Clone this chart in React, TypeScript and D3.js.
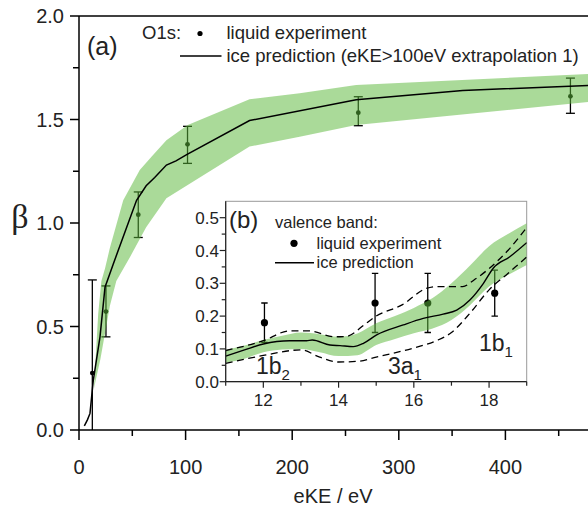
import React from 'react';
import * as d3 from 'd3';

const W = 588;
const H = 508;
const FONT = 'Liberation Sans, Arial, sans-serif';

// ---- panel (a): O1s ----
// liquid experiment: eKE, beta, error low, error high
const o1sE = [12.5, 25.3, 55.6, 101.8, 262, 461];
const o1sBeta = [0.275, 0.572, 1.04, 1.38, 1.533, 1.612];
const o1sLo = [-0.2, 0.45, 0.93, 1.288, 1.47, 1.53];
const o1sHi = [0.725, 0.696, 1.15, 1.467, 1.61, 1.70];

// ice prediction line
const iceLineA: [number, number][] = [
  [5, 0.02], [6, 0.03], [8, 0.05], [10.3, 0.08], [13.4, 0.24], [19.7, 0.45],
  [24.4, 0.69], [32, 0.8], [54, 1.11], [63, 1.18], [71, 1.22], [82, 1.28],
  [91, 1.3], [101, 1.33], [160, 1.495], [260, 1.595], [360, 1.64], [480, 1.665],
];
// uncertainty band
const bandUpperA: [number, number][] = [
  [14, 0.2], [18, 0.56], [21, 0.72], [24.4, 0.78], [29, 0.88], [41.5, 1.11],
  [57, 1.256], [68, 1.32], [82, 1.4], [102, 1.473], [160, 1.598], [207, 1.627],
  [260, 1.667], [480, 1.72],
];
const bandLowerA: [number, number][] = [
  [14, 0.2], [20, 0.34], [29, 0.6], [35, 0.72], [48, 0.837], [63, 0.98],
  [82, 1.12], [160, 1.369], [207, 1.417], [260, 1.473], [480, 1.586],
];

const xTicksA = [0, 100, 200, 300, 400];
const xMinorA = [50, 150, 250, 350, 450];
const yTicksA = [0, 0.5, 1, 1.5, 2];
const yMinorA = [0.25, 0.75, 1.25, 1.75];

// ---- panel (b): valence band ----
const vbE = [12.03, 14.97, 16.37, 18.15];
const vbBeta = [0.18, 0.24, 0.24, 0.27];
const vbLo = [0.12, 0.15, 0.15, 0.2];
const vbHi = [0.24, 0.33, 0.33, 0.34];

const iceLineB: [number, number][] = [
  [11, 0.078], [11.5, 0.097], [12, 0.115], [12.7, 0.125], [13.15, 0.125],
  [13.3, 0.127], [13.77, 0.112], [14.04, 0.11], [14.39, 0.107], [14.66, 0.117],
  [15, 0.142], [15.72, 0.173], [16.25, 0.193], [16.78, 0.206], [17.14, 0.218],
  [17.49, 0.249], [17.85, 0.3], [18.11, 0.346], [18.55, 0.381], [19, 0.424],
];
const bandEB = [11, 11.5, 12, 12.5, 13, 13.5, 14, 14.5, 15, 15.5, 16, 16.5, 17, 17.5, 18, 18.5, 19];
const bandUpB = [0.097, 0.11, 0.127, 0.14, 0.15, 0.145, 0.137, 0.147, 0.178, 0.2, 0.225, 0.255, 0.3, 0.355, 0.413, 0.45, 0.483];
const bandLoB = [0.058, 0.07, 0.09, 0.098, 0.1, 0.09, 0.078, 0.081, 0.112, 0.13, 0.148, 0.162, 0.188, 0.234, 0.29, 0.325, 0.356];

const dashUpB: [number, number][] = [
  [11, 0.095], [12, 0.125], [12.7, 0.155], [13.2, 0.155], [13.9, 0.137], [14.2, 0.138],
  [14.7, 0.175], [15, 0.2], [15.7, 0.235], [16.3, 0.283], [16.6, 0.29], [17.3, 0.29],
  [17.6, 0.31], [18, 0.345], [18.5, 0.4], [19, 0.47],
];
const dashLoB: [number, number][] = [
  [11, 0.056], [12, 0.08], [13, 0.097], [13.5, 0.075], [14, 0.06], [14.5, 0.062],
  [15, 0.075], [16, 0.103], [16.6, 0.125], [17, 0.15], [17.5, 0.21], [18, 0.28],
  [18.5, 0.33], [19, 0.38],
];

const xTicksB = [12, 14, 16, 18];
const xMinorB = [11, 13, 15, 17, 19];
const yTicksB = [0, 0.1, 0.2, 0.3, 0.4, 0.5];
const yMinorB = [0.05, 0.15, 0.25, 0.35, 0.45];

const BAND = '#5cb83c';
const BAND_OP = 0.52;

export default function App() {
  // main scales
  const x = d3.scaleLinear().domain([0, 500]).range([79, 612]);
  const y = d3.scaleLinear().domain([0, 2]).range([430, 16]);
  // inset scales
  const xi = d3.scaleLinear().domain([11, 19]).range([225.7, 526.7]);
  const yi = d3.scaleLinear().domain([0, 0.55]).range([381.7, 201.3]);

  const lineA = d3.line<[number, number]>().x(d => x(d[0])).y(d => y(d[1]));
  const bandA = lineA([...bandUpperA, ...bandLowerA.slice().reverse()]) + 'Z';

  const lineB = d3.line<[number, number]>().x(d => xi(d[0])).y(d => yi(d[1])).curve(d3.curveMonotoneX);
  const areaB = d3.area<number>()
    .x((_, i) => xi(bandEB[i]))
    .y0((_, i) => yi(bandLoB[i]))
    .y1((_, i) => yi(bandUpB[i]))
    .curve(d3.curveMonotoneX);

  const [ix0, ix1] = xi.range();
  const [iy0, iy1] = yi.range();

  return (
    <svg width={W} height={H} style={{ position: 'absolute', left: 0, top: 0, background: '#fff' }}
      fontFamily={FONT}>
      <defs>
        <clipPath id="clipA"><rect x={79} y={16} width={W - 79} height={414} /></clipPath>
        <clipPath id="clipB"><rect x={ix0} y={iy1} width={ix1 - ix0} height={iy0 - iy1} /></clipPath>
      </defs>

      {/* panel (a) data */}
      <g clipPath="url(#clipA)">
        {o1sE.map((e, i) => (
          <g key={i} stroke="#000" strokeWidth={1.3}>
            <line x1={x(e)} x2={x(e)} y1={y(o1sLo[i])} y2={y(o1sHi[i])} />
            <line x1={x(e) - 4.5} x2={x(e) + 4.5} y1={y(o1sHi[i])} y2={y(o1sHi[i])} />
            <line x1={x(e) - 4.5} x2={x(e) + 4.5} y1={y(o1sLo[i])} y2={y(o1sLo[i])} />
            <circle cx={x(e)} cy={y(o1sBeta[i])} r={2.4} fill="#000" stroke="none" />
          </g>
        ))}
        <path d={bandA} fill={BAND} fillOpacity={BAND_OP} />
        <path d={lineA(iceLineA) || ''} fill="none" stroke="#000" strokeWidth={1.5} />
      </g>

      {/* panel (a) axes */}
      <g stroke="#000" strokeWidth={1.5}>
        <line x1={79} x2={W} y1={430} y2={430} />
        <line x1={79} x2={79} y1={16} y2={430} />
        <line x1={79} x2={W} y1={16} y2={16} />
        {xTicksA.map(t => <line key={t} x1={x(t)} x2={x(t)} y1={430} y2={440} />)}
        {xMinorA.map(t => <line key={t} x1={x(t)} x2={x(t)} y1={430} y2={436} />)}
        {yTicksA.map(t => <line key={t} x1={70} x2={79} y1={y(t)} y2={y(t)} />)}
        {yMinorA.map(t => <line key={t} x1={73} x2={79} y1={y(t)} y2={y(t)} />)}
      </g>
      <g fontSize={20} fill="#222">
        {xTicksA.map(t => (
          <text key={t} x={x(t)} y={474} textAnchor="middle">{t}</text>
        ))}
        {yTicksA.map(t => (
          <text key={t} x={64} y={y(t) + 7} textAnchor="end">{d3.format('.1f')(t)}</text>
        ))}
      </g>
      <text x={333} y={503} fontSize={20} textAnchor="middle" fill="#222">eKE / eV</text>
      <text x={20} y={228} fontSize={34} textAnchor="middle" fill="#222"
        fontFamily="Liberation Serif, serif">β</text>

      {/* panel (a) legend */}
      <text x={87} y={55} fontSize={25} fill="#222">(a)</text>
      <text x={142} y={39} fontSize={18.5} fill="#222">O1s:</text>
      <circle cx={200} cy={33.5} r={2.6} fill="#000" />
      <text x={226.5} y={39} fontSize={18.5} fill="#222">liquid experiment</text>
      <line x1={180} x2={221.5} y1={56} y2={56} stroke="#000" strokeWidth={1.5} />
      <text x={226.5} y={62} fontSize={18.5} fill="#222">ice prediction (eKE&gt;100eV extrapolation 1)</text>

      {/* panel (b) inset */}
      <rect x={ix0} y={iy1} width={ix1 - ix0} height={iy0 - iy1} fill="#fff" stroke="#999" strokeWidth={1} />
      <g clipPath="url(#clipB)">
        {vbE.map((e, i) => (
          <g key={i} stroke="#000" strokeWidth={1.3}>
            <line x1={xi(e)} x2={xi(e)} y1={yi(vbLo[i])} y2={yi(vbHi[i])} />
            <line x1={xi(e) - 3.2} x2={xi(e) + 3.2} y1={yi(vbHi[i])} y2={yi(vbHi[i])} />
            <line x1={xi(e) - 3.2} x2={xi(e) + 3.2} y1={yi(vbLo[i])} y2={yi(vbLo[i])} />
            <circle cx={xi(e)} cy={yi(vbBeta[i])} r={3.6} fill="#000" stroke="none" />
          </g>
        ))}
        <path d={areaB(bandEB) || ''} fill={BAND} fillOpacity={BAND_OP} />
        <path d={lineB(dashUpB) || ''} fill="none" stroke="#000" strokeWidth={1.3} strokeDasharray="7,4.5" />
        <path d={lineB(dashLoB) || ''} fill="none" stroke="#000" strokeWidth={1.3} strokeDasharray="7,4.5" />
        <path d={lineB(iceLineB) || ''} fill="none" stroke="#000" strokeWidth={1.4} />
      </g>
      <g stroke="#222" strokeWidth={1.2}>
        <line x1={ix0} x2={ix1} y1={iy0} y2={iy0} />
        <line x1={ix0} x2={ix0} y1={iy1} y2={iy0} />
        {xTicksB.map(t => <line key={t} x1={xi(t)} x2={xi(t)} y1={iy0} y2={iy0 + 6} />)}
        {xMinorB.map(t => <line key={t} x1={xi(t)} x2={xi(t)} y1={iy0} y2={iy0 + 4} />)}
        {yTicksB.map(t => <line key={t} x1={ix0 - 6} x2={ix0} y1={yi(t)} y2={yi(t)} />)}
        {yMinorB.map(t => <line key={t} x1={ix0 - 4} x2={ix0} y1={yi(t)} y2={yi(t)} />)}
      </g>
      <g fontSize={17} fill="#222">
        {xTicksB.map(t => (
          <text key={t} x={xi(t)} y={406} textAnchor="middle">{t}</text>
        ))}
        {yTicksB.map(t => (
          <text key={t} x={219} y={yi(t) + 6} textAnchor="end">{d3.format('.1f')(t)}</text>
        ))}
      </g>

      {/* panel (b) legend and band labels */}
      <text x={229} y={228} fontSize={24} fill="#222">(b)</text>
      <text x={275} y={228} fontSize={16.5} fill="#222">valence band:</text>
      <circle cx={294} cy={243.3} r={3.6} fill="#000" />
      <text x={316.5} y={249} fontSize={16.5} fill="#222">liquid experiment</text>
      <line x1={275} x2={314} y1={262.7} y2={262.7} stroke="#000" strokeWidth={1.4} />
      <text x={316.5} y={268} fontSize={16.5} fill="#222">ice prediction</text>

      <g fontSize={23} fill="#222">
        <text x={256} y={374}>1b<tspan fontSize={15} dy={6}>2</tspan></text>
        <text x={388} y={374}>3a<tspan fontSize={15} dy={6}>1</tspan></text>
        <text x={479} y={351}>1b<tspan fontSize={15} dy={6}>1</tspan></text>
      </g>
    </svg>
  );
}
